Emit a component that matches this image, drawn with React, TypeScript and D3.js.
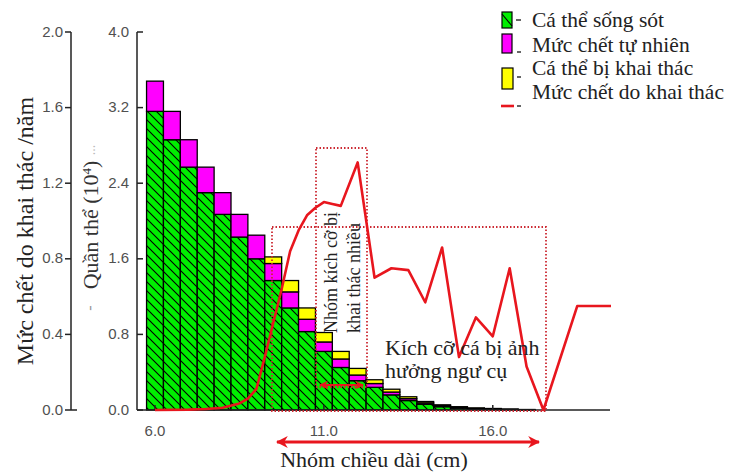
import React from "react";
import * as d3 from "d3";

// length classes (cm) and stacked population (10^4)
const lengths = [6.0, 6.5, 7.0, 7.5, 8.0, 8.5, 9.0, 9.5, 10.0, 10.5, 11.0, 11.5, 12.0, 12.5, 13.0, 13.5, 14.0, 14.5, 15.0, 15.5, 16.0, 16.5, 17.0];
const survivors = [3.16, 2.86, 2.57, 2.3, 2.07, 1.83, 1.6, 1.37, 1.08, 0.83, 0.62, 0.45, 0.31, 0.24, 0.16, 0.1, 0.06, 0.035, 0.02, 0.012, 0.008, 0.005, 0.003];
const naturalDeaths = [0.32, 0.3, 0.29, 0.27, 0.23, 0.24, 0.25, 0.18, 0.17, 0.13, 0.1, 0.09, 0.06, 0.04, 0.03, 0.02, 0.015, 0.01, 0.007, 0.005, 0.004, 0.002, 0.001];
const harvested = [0, 0, 0, 0, 0, 0, 0, 0.07, 0.12, 0.12, 0.1, 0.08, 0.07, 0.04, 0.03, 0.02, 0.015, 0.01, 0.008, 0.005, 0.004, 0.003, 0.001];

// fishing mortality (/year) along length
const rateLength = [6.0, 7.0, 7.5, 8.0, 8.5, 8.75, 9.0, 9.25, 9.5, 9.75, 10.0, 10.25, 10.5, 10.75, 11.0, 11.25, 11.5, 12.0, 12.5, 13.0, 13.5, 14.0, 14.5, 15.0, 15.5, 16.0, 16.5, 17.0, 17.5, 18.5, 19.5];
const rateValue = [0, 0.002, 0.005, 0.012, 0.035, 0.06, 0.11, 0.28, 0.46, 0.64, 0.84, 0.95, 1.03, 1.07, 1.1, 1.09, 1.08, 1.31, 0.7, 0.75, 0.74, 0.57, 0.86, 0.28, 0.49, 0.39, 0.75, 0.23, 0, 0.55, 0.55];

const rateTicks = [0, 0.4, 0.8, 1.2, 1.6, 2.0];
const popTicks = [0, 0.8, 1.6, 2.4, 3.2, 4.0];
const lengthTicks = [6, 11, 16];

const legendLabels = ["Cá thể sống sót", "Mức chết tự nhiên", "Cá thể bị khai thác", "Mức chết do khai thác"];

const RED = "#e8161e";
const DOT = "#cc2a33";
const serif = "'Liberation Serif', 'Times New Roman', serif";
const sans = "'Liberation Sans', Arial, sans-serif";

export default function App() {
  const x = d3.scaleLinear().domain([6, 19.5]).range([155, 611]);
  const yRate = d3.scaleLinear().domain([0, 2]).range([410, 32]);
  const yPop = d3.scaleLinear().domain([0, 4]).range([410, 32]);
  const bw = x(6.5) - x(6);

  const rows = lengths.map((l, i) => ({ l, s: survivors[i], n: naturalDeaths[i], h: harvested[i] }));
  const series = d3.stack<any>().keys(["s", "n", "h"])(rows);
  const fills = ["url(#hatch)", "#ff00ff", "#ffff00"];

  const line = d3
    .line<number>()
    .x((d, i) => x(rateLength[i]))
    .y((d) => yRate(d))
    .curve(d3.curveLinear);

  return (
    <svg width={733} height={474} style={{ position: "absolute", left: 0, top: 0, background: "#fff" }}>
      <defs>
        <pattern id="hatch" patternUnits="userSpaceOnUse" width={9} height={9}>
          <rect width={9} height={9} fill="#00ee00" />
          <path d="M0,0 L9,9 M-2,7 L2,11 M7,-2 L11,2" stroke="#000" strokeWidth={1.1} />
        </pattern>
        <marker id="arr" viewBox="0 0 10 10" refX={9} refY={5} markerWidth={4} markerHeight={4} orient="auto-start-reverse">
          <path d="M0,0 L10,5 L0,10 L3,5 Z" fill={RED} />
        </marker>
      </defs>

      {/* bars */}
      {series.map((s, k) => (
        <g key={k}>
          {s.map((d, i) =>
            d[1] - d[0] > 0 ? (
              <rect
                key={i}
                x={x(lengths[i]) - bw / 2}
                y={yPop(d[1])}
                width={bw}
                height={yPop(d[0]) - yPop(d[1])}
                fill={fills[k]}
                stroke="#000"
                strokeWidth={1.3}
              />
            ) : null
          )}
        </g>
      ))}

      {/* axes */}
      <g stroke="#222" strokeWidth={1.5} fill="none">
        <line x1={71} y1={32} x2={71} y2={410} />
        <line x1={137} y1={32} x2={137} y2={410} />
        <line x1={137} y1={410} x2={610} y2={410} />
        {rateTicks.map((t) => (
          <line key={"r" + t} x1={65} x2={71} y1={yRate(t)} y2={yRate(t)} />
        ))}
        <line x1={71} x2={77} y1={410} y2={410} />
        {popTicks.map((t) => (
          <line key={"p" + t} x1={137} x2={143} y1={yPop(t)} y2={yPop(t)} />
        ))}
        {lengthTicks.map((t) => (
          <line key={"l" + t} x1={x(t)} x2={x(t)} y1={410} y2={405} />
        ))}
      </g>
      <g fontFamily={sans} fontSize={15} fill="#505050">
        {rateTicks.map((t) => (
          <text key={t} x={63} y={yRate(t)} dy="0.3em" textAnchor="end">{t.toFixed(1)}</text>
        ))}
        {popTicks.map((t) => (
          <text key={t} x={129} y={yPop(t)} dy="0.3em" textAnchor="end">{t.toFixed(1)}</text>
        ))}
        {lengthTicks.map((t) => (
          <text key={t} x={x(t)} y={436} textAnchor="middle">{t.toFixed(1)}</text>
        ))}
      </g>

      {/* dotted boxes */}
      <g fill="none" stroke={DOT} strokeWidth={1.8} strokeDasharray="1.5,2">
        <rect x={316} y={148} width={51} height={239} />
        <rect x={272} y={227} width={274} height={184} />
      </g>

      {/* fishing mortality line */}
      <path d={line(rateValue) || ""} fill="none" stroke={RED} strokeWidth={2.6} strokeLinejoin="round" />

      {/* arrows */}
      <line x1={320} y1={385} x2={363} y2={385} stroke={RED} strokeWidth={2.2} markerStart="url(#arr)" markerEnd="url(#arr)" />
      <line x1={277} y1={442} x2={539} y2={442} stroke={RED} strokeWidth={3} markerStart="url(#arr)" markerEnd="url(#arr)" />

      {/* annotations */}
      <g fontFamily={serif} fill="#222">
        <text transform="translate(337,333) rotate(-90)" fontSize={18}>Nhóm kích cỡ bị</text>
        <text transform="translate(360,333) rotate(-90)" fontSize={18}>khai thác nhiều</text>
        <text x={385} y={355} fontSize={22}>Kích cỡ cá bị ảnh</text>
        <text x={385} y={378} fontSize={22}>hưởng ngư cụ</text>
        <text x={374} y={467} fontSize={22} textAnchor="middle">Nhóm chiều dài (cm)</text>
        <text transform="translate(33,231) rotate(-90)" fontSize={24} textAnchor="middle">Mức chết do khai thác /năm</text>
        <text transform="translate(98,225) rotate(-90)" fontSize={22} textAnchor="middle" fill="#333">
          Quần thể (10<tspan dy="-7" fontSize={13}>4</tspan><tspan dy="7">)</tspan>
        </text>
        <text transform="translate(95,308) rotate(-90)" fontSize={16} textAnchor="middle" fill="#999">-</text>
        <text transform="translate(95,150) rotate(-90)" fontSize={14} textAnchor="middle" fill="#bbb">...</text>
      </g>

      {/* legend */}
      <g>
        <rect x={502} y={12} width={10} height={16} fill="#00ee00" stroke="#000" strokeWidth={1.2} />
        <line x1={502} y1={14} x2={512} y2={26} stroke="#000" strokeWidth={1.1} />
        <rect x={502} y={34} width={10} height={19} fill="#ff00ff" stroke="#000" strokeWidth={1.2} />
        <rect x={502} y={68} width={11} height={21} fill="#ffff00" stroke="#000" strokeWidth={1.2} />
        <line x1={501} y1={106} x2={514} y2={106} stroke={RED} strokeWidth={2.6} />
        <g stroke="#333" strokeWidth={1.5}>
          <line x1={516} x2={521} y1={20} y2={20} />
          <line x1={517} x2={521} y1={52} y2={52} />
          <line x1={517} x2={521} y1={77} y2={77} />
          <line x1={517} x2={521} y1={106} y2={106} />
        </g>
        <g fontFamily={serif} fontSize={21.5} fill="#222">
          {legendLabels.map((t, i) => (
            <text key={t} x={532} y={[27, 52, 75, 99][i]}>{t}</text>
          ))}
        </g>
      </g>
    </svg>
  );
}
